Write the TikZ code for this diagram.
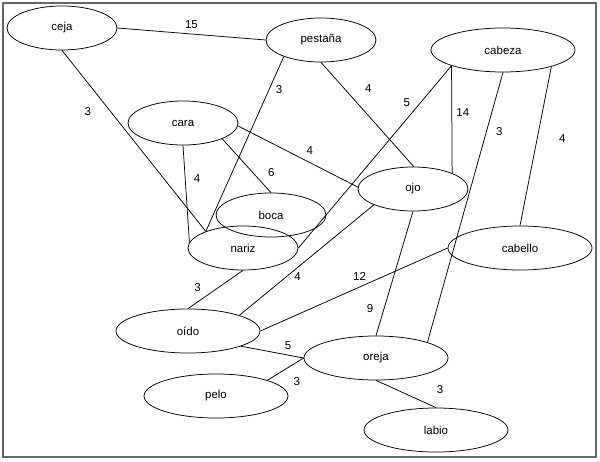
\documentclass[tikz,border=0pt]{standalone}
\usepackage{fontspec}
\setmainfont{Liberation Sans}
\usetikzlibrary{shapes,arrows,positioning}

\begin{document}
\begin{tikzpicture}[x=1pt,y=1pt,node distance=3cm,on grid,
    font=\fontsize{11.5}{13}\selectfont,
    word/.style={ellipse,draw,line width=0.75pt,inner sep=0pt,minimum width=110pt,minimum height=44pt},
    longword/.style={word,minimum width=144pt},
    weight/.style={anchor=center},
    every edge/.style={draw,line width=0.75pt}]
      \useasboundingbox (-62,28) rectangle (538,-433);
      \draw[black!60,line width=1.5pt] (-59,25) rectangle (534,-429);

      \node[word] (ceja) {ceja};
      \node[word] (pestana) [below right=12pt and 259pt of ceja] {pestaña};
      \node[longword] (cabeza) [below right=10pt and 182pt of pestana] {cabeza};
      \node[word] (cara) [below right=95pt and 121pt of ceja] {cara};
      \node[word] (ojo) [below right=66pt and 230pt of cara] {ojo};
      \node[word] (boca) [below right=92pt and 88pt of cara] {boca};
      \node[word] (nariz) [below left=33pt and 28pt of boca] {nariz};
      \node[longword] (cabello) [below right=59pt and 107pt of ojo] {cabello};
      \node[longword] (oido) [below left=83pt and 55pt of nariz] {oído};
      \node[longword] (oreja) [below right=27pt and 188pt of oido] {oreja};
      \node[longword] (pelo) [below left=38pt and 160pt of oreja] {pelo};
      \node[longword] (labio) [below right=72pt and 60pt of oreja] {labio};

      \path (ceja.0) edge node[pos=.5,above=9pt,weight] {15} (pestana.180);
      \path (ceja.270) edge node[pos=.34,left=23pt,weight] {3} (nariz.156);
      \path (pestana.204) edge node[pos=.19,right=10pt,weight] {3} (nariz.156);
      \path (cara.270) edge node[pos=.34,right=12pt,weight] {4} (nariz.174);
      \path (cara.338) edge node[pos=.8,above right=9pt and 10pt,weight] {6} (boca.90);
      \path (cara.357) edge node[pos=.6,above=12pt,weight] {4} (ojo.178);
      \path (pestana.270) edge node[pos=.37,above right=12pt and 13pt,weight] {4} (ojo.88);
      \path (cabeza.197) edge node[pos=.24,above left=7pt and 8pt,weight] {5} (nariz.0);
      \path (cabeza.197) edge node[pos=.44,right=11pt,weight] {14} (ojo.22);
      \path (cabeza.270) edge node[pos=.22,right=13pt,weight] {3} (oreja.17);
      \path (cabeza.341) edge node[pos=.45,right=25pt,weight] {4} (cabello.90);
      \path (ojo.202) edge node[pos=.65,right=11pt,weight] {4} (oido.17);
      \path (nariz.270) edge node[pos=.7,above left=10pt and 7pt,weight] {3} (oido.90);
      \path (oido.0) edge node[pos=.53,above=11pt,weight] {12} (cabello.180);
      \path (ojo.270) edge node[pos=.78,left=14pt,weight] {9} (oreja.90);
      \path (oido.344) edge node[pos=.75,above=9pt,weight] {5} (oreja.180);
      \path (pelo.17) edge node[pos=.56,below right=14pt and 9pt,weight] {3} (oreja.180);
      \path (oreja.270) edge node[pos=.9,above right=15pt and 10pt,weight] {3} (labio.90);
    \end{tikzpicture}
\end{document}
